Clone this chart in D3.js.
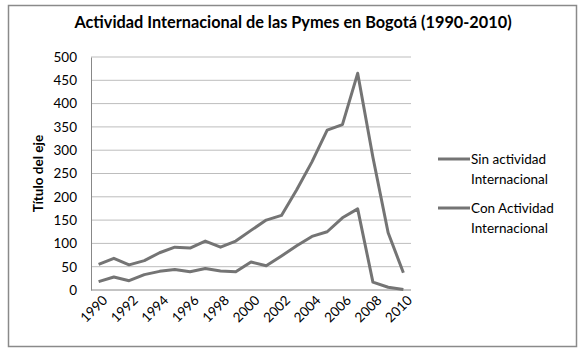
<!DOCTYPE html>
<html>
<head>
<meta charset="utf-8">
<script src="https://d3js.org/d3.v7.min.js"></script>
<style>
  body { margin: 0; background: #fff; }
  text { font-family: Lato, "Open Sans", sans-serif; fill: #000; }
</style>
</head>
<body>
<div id="chart"></div>
<script>
// values
const years = d3.range(1990, 2011);
const sinActividad = [55, 68, 54, 63, 80, 92, 90, 105, 92, 105, 128, 150, 160, 215, 275, 343, 355, 465, 285, 123, 37];
const conActividad = [18, 28, 20, 33, 40, 44, 39, 46, 41, 39, 60, 52, 73, 95, 115, 125, 155, 174, 17, 6, 1];
const yTicks = [0, 50, 100, 150, 200, 250, 300, 350, 400, 450, 500];
const seriesNames = ['Sin actividad Internacional', 'Con Actividad Internacional'];

const width = 588;
const height = 360;
const plot = { left: 91, right: 411, top: 57, bottom: 290 };
const lineColor = '#747474';

const svg = d3.select('#chart')
  .append('svg')
  .attr('width', width)
  .attr('height', height);

// outer frame
svg.append('rect')
  .attr('x', 8.5)
  .attr('y', 5.5)
  .attr('width', 568)
  .attr('height', 341)
  .attr('fill', '#fff')
  .attr('stroke', '#8a8a8a')
  .attr('stroke-width', 1.5);

const xScale = d3.scalePoint()
  .domain(years)
  .range([plot.left, plot.right])
  .padding(0.5);

const yScale = d3.scaleLinear()
  .domain([0, 500])
  .range([plot.bottom, plot.top]);

// gridlines
svg.append('g')
  .selectAll('line')
  .data(yTicks)
  .enter()
  .append('line')
  .attr('x1', plot.left)
  .attr('x2', plot.right)
  .attr('y1', d => yScale(d))
  .attr('y2', d => yScale(d))
  .attr('stroke', d => d === 0 ? '#888' : '#bdbdbd')
  .attr('stroke-width', 1);

// y axis
const yAxis = svg.append('g')
  .attr('transform', `translate(${plot.left}, 0)`)
  .call(d3.axisLeft(yScale).tickValues(yTicks).tickSize(0).tickPadding(14));
yAxis.select('.domain').attr('stroke', '#888');
yAxis.selectAll('text')
  .attr('font-size', 13.5)
  .attr('font-family', 'Lato, sans-serif')
  .attr('fill', '#000');

// x axis labels, every second year
const xAxis = svg.append('g')
  .attr('transform', `translate(0, ${plot.bottom})`)
  .call(d3.axisBottom(xScale).tickValues(years.filter(y => y % 2 === 0)).tickSize(0));
xAxis.select('.domain').remove();
xAxis.selectAll('text')
  .attr('font-size', 13.5)
  .attr('font-family', 'Lato, sans-serif')
  .attr('fill', '#000')
  .attr('text-anchor', 'end')
  .attr('dy', 0)
  .attr('transform', 'translate(7, 9) rotate(-45)');

// axis title
svg.append('text')
  .attr('transform', `translate(43, ${(plot.top + plot.bottom) / 2}) rotate(-90)`)
  .attr('text-anchor', 'middle')
  .attr('font-size', 13.5)
  .attr('font-weight', 'bold')
  .text('Título del eje');

// title
svg.append('text')
  .attr('x', 293)
  .attr('y', 28)
  .attr('text-anchor', 'middle')
  .attr('font-size', 16.3)
  .attr('font-weight', 'bold')
  .text('Actividad Internacional de las Pymes en Bogotá (1990-2010)');

// lines
const line = d3.line()
  .x((d, i) => xScale(years[i]))
  .y(d => yScale(d));

[sinActividad, conActividad].forEach(values => {
  svg.append('path')
    .datum(values)
    .attr('d', line)
    .attr('fill', 'none')
    .attr('stroke', lineColor)
    .attr('stroke-width', 3)
    .attr('stroke-linejoin', 'round');
});

// legend
const legend = svg.append('g')
  .attr('transform', 'translate(438, 159)');

seriesNames.forEach((name, i) => {
  const g = legend.append('g').attr('transform', `translate(0, ${i * 49})`);
  g.append('line')
    .attr('x1', 0)
    .attr('x2', 32)
    .attr('stroke', lineColor)
    .attr('stroke-width', 3);
  const words = name.split(' ');
  const t = g.append('text')
    .attr('font-size', 13.5)
    .attr('fill', '#000');
  t.append('tspan').attr('x', 33).attr('y', 4.5).text(words.slice(0, 2).join(' '));
  t.append('tspan').attr('x', 33).attr('y', 24.5).text(words.slice(2).join(' '));
});
</script>
</body>
</html>
